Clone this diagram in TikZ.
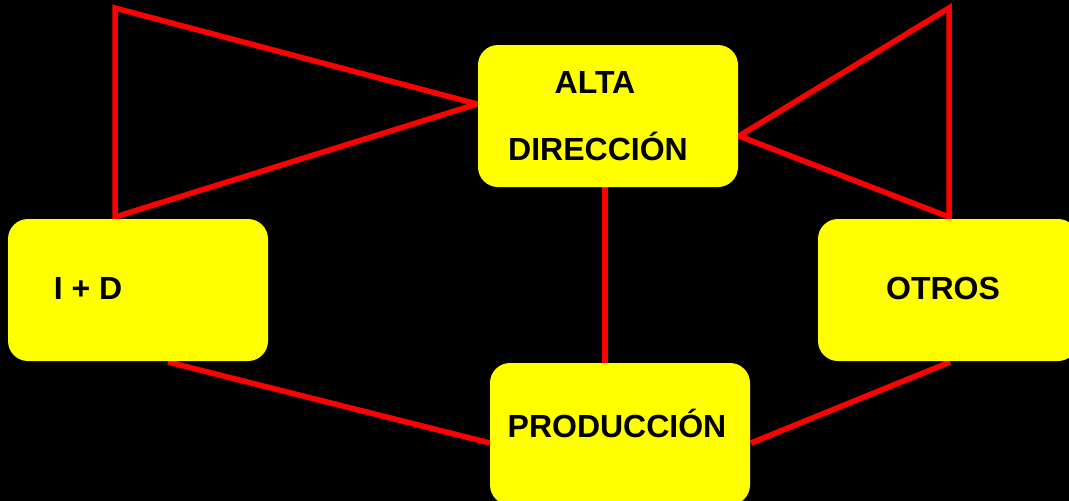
\documentclass[tikz,border=0pt]{standalone}
\usepackage{fontspec}
\setmainfont{Liberation Sans}
\definecolor{boxyellow}{RGB}{255,255,0}
\definecolor{linkred}{RGB}{255,0,0}
\begin{document}
\begin{tikzpicture}[x=1pt,y=-1pt,
  box/.style={fill=boxyellow, draw=none, rounded corners=20pt, inner sep=0pt,
              minimum width=260pt, minimum height=142pt},
  lbl/.style={anchor=base, inner sep=0pt, text=black, font=\fontsize{32}{38}\selectfont\bfseries},
  link/.style={draw=linkred, line width=5.5pt, line cap=butt, line join=miter}]
\fill[black] (0,0) rectangle (1069,501);
\useasboundingbox (0,0) rectangle (1069,501);
\clip (0,0) rectangle (1069,501);
% connector end points
\coordinate (lt) at (115,8);
\coordinate (lb) at (115,217);
\coordinate (rt) at (949,8);
\coordinate (rb) at (949,217);
\coordinate (aw) at (477,104);
\coordinate (ae) at (739,136);
\coordinate (as) at (605,187);
\coordinate (pn) at (605,363);
\coordinate (ids) at (168,362);
\coordinate (pw) at (490,443);
\coordinate (pe) at (751,443);
\coordinate (os) at (950,362);
% connectors
\draw[link] (lb) -- (lt) -- (aw) -- cycle;
\draw[link] (rb) -- (rt) -- (ae) -- cycle;
\draw[link] (as) -- (pn);
\draw[link] (ids) -- (pw);
\draw[link] (pe) -- (os);
% boxes
\node[box] (alta) at (608,116) {};
\node[box] (id) at (138,290) {};
\node[box] (otros) at (948,290) {};
\node[box] (prod) at (620,434) {};
% labels
\node[lbl] (t1) at (595,93) {ALTA};
\node[lbl] (t2) at (598,160) {DIRECCIÓN};
\node[lbl] (t3) at (88,299) {I + D};
\node[lbl] (t4) at (943,299) {OTROS};
\node[lbl] (t5) at (617,437) {PRODUCCIÓN};
\end{tikzpicture}
\end{document}
